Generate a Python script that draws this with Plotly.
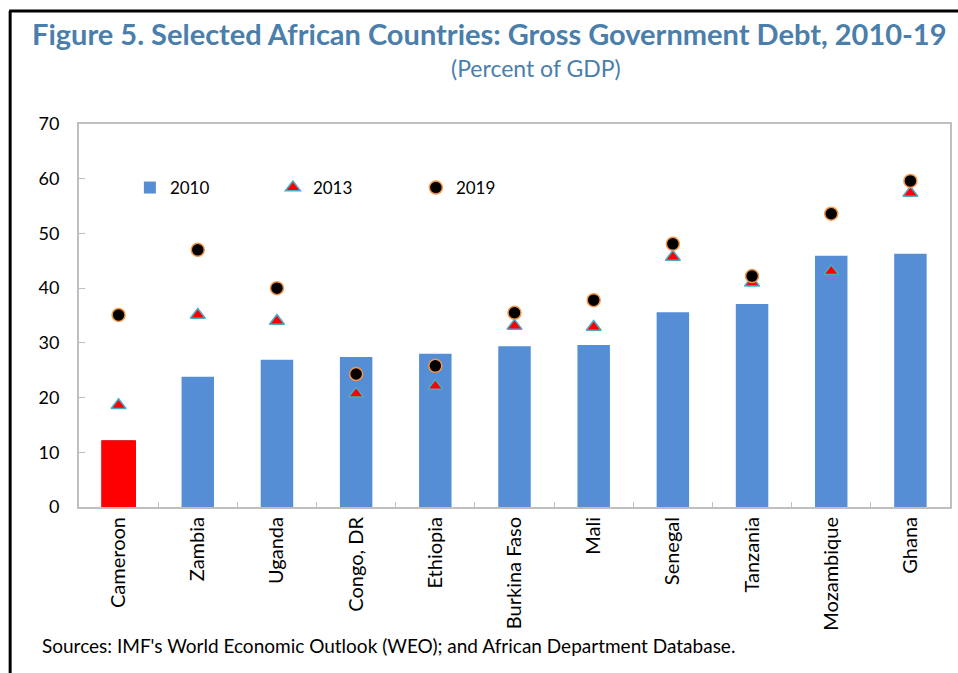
import plotly.graph_objects as go

countries = ["Cameroon", "Zambia", "Uganda", "Congo, DR", "Ethiopia", "Burkina Faso",
             "Mali", "Senegal", "Tanzania", "Mozambique", "Ghana"]
debt_2010 = [12.2, 23.8, 26.9, 27.4, 28.0, 29.4, 29.6, 35.6, 37.1, 45.9, 46.3]
debt_2013 = [18.6, 35.1, 34.0, 20.7, 22.1, 33.1, 32.9, 45.7, 41.0, 43.1, 57.4]
debt_2019 = [35.1, 47.0, 40.0, 24.3, 25.8, 35.5, 37.8, 48.1, 42.2, 53.6, 59.6]
highlight = ["Cameroon"]
y_ticks = [0, 10, 20, 30, 40, 50, 60, 70]

FONT = "Lato"
W, H = 958, 673
ML, MR, MT, MB = 79, 6, 124, 166

fig = go.Figure()
fig.add_trace(go.Bar(x=countries, y=debt_2010, name="2010", marker_color="#558ED5",
                     marker_line_width=0, width=0.41))
fig.add_trace(go.Bar(x=highlight, y=[debt_2010[countries.index(c)] for c in highlight],
                     showlegend=False, marker_color="#FF0000", marker_line_width=0, width=0.44))
fig.add_trace(go.Scatter(x=countries, y=debt_2013, name="2013", mode="markers",
                         marker=dict(symbol="triangle-up", size=13, color="#FF0000",
                                     line=dict(color="#4BACC6", width=1.5))))
fig.add_trace(go.Scatter(x=countries, y=debt_2019, name="2019", mode="markers",
                         marker=dict(symbol="circle", size=13, color="#000000",
                                     line=dict(color="#F79646", width=1.5))))

pw = W - ML - MR
ph = H - MT - MB
def px(x):
    return (x - ML) / pw
def py(y):
    return (H - MB - y) / ph

fig.update_layout(
    width=W, height=H, margin=dict(l=ML, r=MR, t=MT, b=MB),
    paper_bgcolor="white", plot_bgcolor="white",
    barmode="overlay", showlegend=True,
    font=dict(family=FONT, size=17, color="#000000"),
    legend=dict(orientation="h", x=px(130), y=py(188), yanchor="middle", xanchor="left",
                bgcolor="rgba(0,0,0,0)", font=dict(size=17), entrywidth=98,
                traceorder="normal", itemwidth=30),
    xaxis=dict(range=[-0.5, len(countries) - 0.5], showline=True, linecolor="#BFBFBF",
               linewidth=2, mirror=True,
               ticks="inside", tickson="boundaries", ticklen=5, tickcolor="#BFBFBF",
               tickangle=-90, tickfont=dict(size=20), showgrid=False),
    yaxis=dict(range=[0, 70], tickvals=y_ticks, showline=True, linecolor="#BFBFBF",
               linewidth=2, mirror=True, ticks="inside", ticklen=6, tickcolor="#BFBFBF",
               showgrid=False, zeroline=False, tickfont=dict(size=18), ticklabelstandoff=14),
)

annotations = [
    dict(text="<b>Figure 5. Selected African Countries: Gross Government Debt, 2010-19</b>",
         x=px(490), y=py(33), xanchor="center", yanchor="middle",
         font=dict(size=29, color="#4A7EAB", family=FONT)),
    dict(text="(Percent of GDP)", x=px(537), y=py(68), xanchor="center", yanchor="middle",
         font=dict(size=23, color="#4A7EAB", family=FONT)),
    dict(text="Sources: IMF's World Economic Outlook (WEO); and African Department Database.",
         x=px(40), y=py(645), xanchor="left", yanchor="middle",
         font=dict(size=19, color="#000000", family=FONT)),
]
for a in annotations:
    a.update(xref="paper", yref="paper", showarrow=False)
fig.update_layout(annotations=annotations)

fig.add_shape(type="line", xref="paper", yref="paper", x0=px(10), x1=px(10), y0=py(11), y1=py(700),
              line=dict(color="black", width=3))
fig.add_shape(type="line", xref="paper", yref="paper", x0=px(9), x1=px(970), y0=py(11), y1=py(11),
              line=dict(color="black", width=3))

fig.write_html("out.html")
